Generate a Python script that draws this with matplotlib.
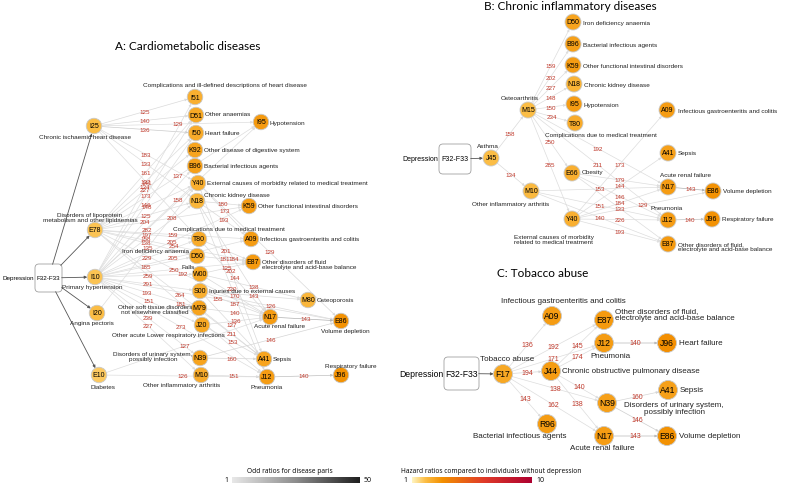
import matplotlib
matplotlib.use('Agg')
import matplotlib.pyplot as plt
from matplotlib.colors import LinearSegmentedColormap, Normalize
from matplotlib.patches import FancyBboxPatch
from matplotlib.cm import ScalarMappable

# ---- disease names ----
names = {
    'I25': 'Chronic ischaemic heart disease',
    'E78': 'Disorders of lipoprotein\nmetabolism and other lipidaemias',
    'I10': 'Primary hypertension',
    'I20': 'Angina pectoris',
    'E10': 'Diabetes',
    'I51': 'Complications and ill-defined descriptions of heart disease',
    'D51': 'Other anaemias',
    'I50': 'Heart failure',
    'K92': 'Other disease of digestive system',
    'B96': 'Bacterial infectious agents',
    'Y40': 'External causes of morbidity related to medical treatment',
    'N18': 'Chronic kidney disease',
    'T80': 'Complications due to medical treatment',
    'D50': 'Iron deficiency anaemia',
    'W00': 'Falls',
    'S00': 'Injuries due to external causes',
    'M79': 'Other soft tissue disorders\nnot elsewhere classified',
    'J20': 'Other acute Lower respiratory infections',
    'N39': 'Disorders of urinary system,\npossibly infection',
    'M10': 'Other inflammatory arthritis',
    'I95': 'Hypotension',
    'K59': 'Other functional intestinal disorders',
    'A09': 'Infectious gastroenteritis and colitis',
    'E87': 'Other disorders of fluid\nelectrolyte and acid-base balance',
    'M80': 'Osteoporosis',
    'N17': 'Acute renal failure',
    'E86': 'Volume depletion',
    'A41': 'Sepsis',
    'J12': 'Pneumonia',
    'J96': 'Respiratory failure',
    'J45': 'Asthma',
    'M15': 'Osteoarthritis',
    'E66': 'Obesity',
    'F17': 'Tobacco abuse',
    'J44': 'Chronic obstructive pulmonary disease',
    'R96': 'Bacterial infectious agents',
}
names_b = {'Y40': 'External causes of morbidity\nrelated to medical treatment',
           'E87': 'Other disorders of fluid,\nelectrolyte and acid-base balance'}
names_c = {'E87': 'Other disorders of fluid,\nelectrolyte and acid-base balance',
           'J96': 'Heart failure'}

# ---- hazard ratios per node (node colour) ----
hazard_a = {'I25': 2.0, 'E78': 1.9, 'I10': 1.9, 'I20': 2.0, 'E10': 1.8,
            'I51': 2.4, 'D51': 2.6, 'I50': 2.5, 'K92': 2.7, 'B96': 2.8, 'Y40': 2.4,
            'N18': 2.2, 'T80': 2.5, 'D50': 2.6, 'W00': 2.6, 'S00': 2.4, 'M79': 2.7,
            'J20': 2.6, 'N39': 2.7, 'M10': 2.5, 'I95': 3.0, 'K59': 2.9, 'A09': 2.9,
            'E87': 3.0, 'M80': 2.2, 'N17': 2.9, 'E86': 3.2, 'A41': 2.7, 'J12': 2.9,
            'J96': 3.2}
hazard_b = {'J45': 2.0, 'M15': 2.0, 'M10': 2.1, 'D50': 2.7, 'B96': 2.8, 'K59': 2.9,
            'N18': 2.3, 'I95': 2.9, 'T80': 2.5, 'E66': 2.4, 'Y40': 2.4, 'A09': 2.9,
            'A41': 2.8, 'N17': 2.9, 'E86': 3.2, 'J12': 2.9, 'J96': 3.2, 'E87': 3.0}
hazard_c = {'F17': 2.6, 'A09': 2.9, 'E87': 3.0, 'J12': 2.9, 'J96': 3.3, 'J44': 2.9,
            'A41': 2.8, 'N39': 2.8, 'R96': 2.9, 'N17': 2.9, 'E86': 3.2}

# ---- edges: (from, to, label, odds ratio) ----
dep_a = ['I25', 'E78', 'I10', 'I20', 'E10']
edges_a = [
    ('I25', 'I51', 125, 5), ('I25', 'D51', 140, 5), ('I25', 'I50', 136, 9),
    ('I25', 'I95', 129, 4), ('I25', 'Y40', 183, 4), ('I25', 'N18', 133, 4),
    ('I25', 'T80', 141, 4),
    ('E78', 'D51', 161, 4), ('E78', 'I50', 132, 4), ('E78', 'K92', 227, 4),
    ('E78', 'Y40', 148, 4), ('E78', 'N18', 125, 4), ('E78', 'T80', 197, 4),
    ('E78', 'D50', 138, 4), ('E78', 'I95', 137, 4), ('E78', 'K59', 208, 4),
    ('E78', 'A09', 159, 4), ('E78', 'E87', 254, 4), ('E78', 'N17', 192, 4),
    ('E78', 'A41', 264, 4), ('E78', 'J12', 181, 4),
    ('I10', 'I51', 134, 4), ('I10', 'D51', 173, 4), ('I10', 'I50', 146, 4),
    ('I10', 'B96', 204, 4), ('I10', 'Y40', 282, 4), ('I10', 'N18', 158, 4),
    ('I10', 'T80', 229, 4), ('I10', 'D50', 185, 4), ('I10', 'W00', 259, 4),
    ('I10', 'S00', 291, 4), ('I10', 'M79', 193, 4), ('I10', 'J20', 151, 4),
    ('I10', 'N39', 239, 4), ('I10', 'M10', 227, 4), ('I10', 'I95', 158, 4),
    ('I10', 'K59', 205, 4), ('I10', 'A09', 205, 4), ('I10', 'E87', 250, 4),
    ('I10', 'E86', 155, 4), ('I10', 'J12', 273, 4),
    ('I20', 'Y40', 135, 4),
    ('E10', 'N17', 127, 4), ('E10', 'J12', 126, 4),
    ('N18', 'K59', 180, 5), ('Y40', 'A09', 173, 5), ('N18', 'A09', 193, 5),
    ('T80', 'E87', 201, 5), ('N18', 'N17', 184, 5), ('Y40', 'E86', 129, 5),
    ('T80', 'N17', 144, 5), ('N18', 'J12', 220, 5), ('Y40', 'A41', 202, 5),
    ('D50', 'E87', 181, 5), ('W00', 'E87', 125, 5), ('W00', 'N17', 170, 5),
    ('S00', 'N17', 187, 5), ('M79', 'N17', 140, 5), ('S00', 'A41', 127, 5),
    ('J20', 'N17', 136, 5), ('M79', 'A41', 211, 5), ('J20', 'A41', 153, 5),
    ('N39', 'A41', 160, 6), ('M10', 'J12', 151, 5), ('N39', 'E86', 146, 6),
    ('W00', 'M80', 138, 5), ('S00', 'M80', 143, 5), ('S00', 'E86', 126, 5),
    ('N17', 'E86', 143, 16), ('J12', 'J96', 140, 12),
]
dep_b = ['J45']
edges_b = [
    ('J45', 'M15', 158, 5), ('J45', 'M10', 134, 5),
    ('M15', 'D50', 159, 4), ('M15', 'B96', 202, 4), ('M15', 'K59', 227, 4),
    ('M15', 'N18', 148, 4), ('M15', 'I95', 150, 4), ('M15', 'T80', 234, 4),
    ('M15', 'E66', 250, 4), ('M15', 'Y40', 285, 4), ('M15', 'N17', 192, 4),
    ('M15', 'J12', 211, 4), ('Y40', 'A09', 173, 4), ('E66', 'N17', 179, 4),
    ('E66', 'J12', 146, 4), ('Y40', 'A41', 144, 4), ('M10', 'N17', 153, 4),
    ('M10', 'J12', 151, 4), ('M10', 'E87', 140, 4), ('Y40', 'N17', 184, 4),
    ('Y40', 'E86', 129, 4), ('E66', 'E87', 133, 4), ('Y40', 'J12', 226, 4),
    ('Y40', 'E87', 193, 4), ('N17', 'E86', 143, 16), ('J12', 'J96', 140, 12),
]
dep_c = ['F17']
edges_c = [
    ('F17', 'A09', 136, 4), ('F17', 'E87', 192, 4), ('F17', 'J12', 171, 4),
    ('F17', 'J44', 194, 6), ('F17', 'N39', 138, 4), ('F17', 'R96', 143, 4),
    ('F17', 'N17', 162, 4), ('J44', 'E87', 145, 4), ('J44', 'J12', 174, 4),
    ('J44', 'N39', 140, 4), ('J44', 'N17', 138, 4), ('J12', 'J96', 140, 14),
    ('N39', 'A41', 160, 6), ('N39', 'E86', 146, 8), ('N17', 'E86', 143, 14),
]

# ---- layout (pixel positions) and label placement (dx, dy, ha) ----
R, C = 'left', 'center'
layout_a = {
    'I25': (94, 127, -9, 11, C), 'E78': (95, 231, -5, -13, C), 'I10': (95, 278, -3, 10, C),
    'I20': (97, 314, -5, 10, C), 'E10': (99, 376, 4, 12, C),
    'I51': (195, 98, 30, -13, C), 'D51': (196, 116, 9, -1, R), 'I50': (196, 134, 9, 0, R),
    'K92': (195, 151, 9, 0, R), 'B96': (195, 167, 9, 0, R), 'Y40': (198, 184, 9, 0, R),
    'N18': (197, 202, 7, -6, R), 'T80': (199, 240, 30, -10, C), 'D50': (197, 257, -41, -5, C),
    'W00': (200, 275, -12, -7, C), 'S00': (200, 292, 9, 0, R), 'M79': (199, 309, -44, 1, C),
    'J20': (202, 326, -34, 10, C), 'N39': (200, 359, -47, -2, C), 'M10': (201, 376, -19, 10, C),
    'I95': (261, 123, 9, 0, R), 'K59': (249, 207, 9, 0, R), 'A09': (251, 240, 9, 0, R),
    'E87': (253, 263, 9, 2, R), 'M80': (308, 301, 9, 0, R), 'N17': (270, 318, 10, 9, C),
    'E86': (341, 322, 4, 10, C), 'A41': (264, 360, 9, 0, R), 'J12': (267, 378, 0, 10, C),
    'J96': (341, 376, 10, -9, C),
}
layout_b = {
    'J45': (491, 159, -3, -12, C), 'M15': (528, 111, -8, -13, C), 'M10': (531, 192, -20, 13, C),
    'D50': (573, 23, 10, 0, R), 'B96': (573, 45, 10, 0, R), 'K59': (573, 66, 10, 0, R),
    'N18': (574, 85, 10, 0, R), 'I95': (574, 105, 10, 0, R), 'T80': (575, 124, 26, 12, C),
    'E66': (572, 174, 10, -1, R), 'Y40': (572, 220, -18, 20, C), 'A09': (667, 111, 11, 0, R),
    'A41': (668, 154, 10, 0, R), 'N17': (668, 188, 17, -12, C), 'E86': (713, 192, 10, 0, R),
    'J12': (668, 221, -1, -12, C), 'J96': (712, 220, 10, 0, R), 'E87': (668, 245, 10, 2, R),
}
layout_c = {
    'F17': (503, 375, 4, -15, C), 'A09': (552, 317, 11, -15, C), 'E87': (604, 321, 11, -6, R),
    'J12': (604, 344, 6, 13, C), 'J96': (667, 344, 12, 0, R), 'J44': (551, 372, 11, 0, R),
    'A41': (668, 391, 12, 0, R), 'N39': (607, 404, 67, 5, C), 'R96': (547, 425, -27, 12, C),
    'N17': (604, 437, -2, 12, C), 'E86': (667, 437, 12, 0, R),
}

# ---- colour scales ----
haz_cmap = LinearSegmentedColormap.from_list(
    'haz', [(0, '#fff5c2'), (0.11, '#fbbd45'), (0.25, '#f39000'), (0.6, '#df3a28'), (1, '#ad0030')])
haz_norm = Normalize(1, 10)
or_cmap = LinearSegmentedColormap.from_list('or', ['#e8e8e8', '#8c8c8c', '#1e1e1e'])
or_norm = Normalize(1, 50)

RED = '#c0392b'
TXT = 'Liberation Sans'

fig = plt.figure(figsize=(7.87, 4.85), dpi=100)
ax = fig.add_axes([0, 0, 1, 1])
ax.set_xlim(0, 787)
ax.set_ylim(485, 0)
ax.axis('off')


def draw_panel(layout, hazard, edges, dep, box, ext, node_d, fs_code, fs_name, fs_edge, fs_dep):
    bx, by, bw, bh = box
    patch = FancyBboxPatch((bx, by), bw, bh, boxstyle='round,pad=0,rounding_size=4',
                           fc='white', ec='#a0a0a0', lw=0.6, zorder=1)
    ax.add_patch(patch)
    ax.text(bx + bw / 2, by + bh / 2, 'F32-F33', fontsize=fs_dep, family=TXT,
            ha='center', va='center', zorder=4)
    ax.text(bx - 1, by + bh / 2, 'Depression', fontsize=fs_dep, family=TXT,
            ha='right', va='center', zorder=4)
    r_pt = node_d / 2 * 72 / 100
    for n in dep:
        x, y = layout[n][:2]
        ax.annotate('', xy=(x, y), xytext=(bx + bw / 2, by + bh / 2),
                    arrowprops=dict(arrowstyle='-|>', color='#555555', lw=0.6,
                                    mutation_scale=4, patchA=patch, shrinkA=0,
                                    shrinkB=r_pt), zorder=2)
    for a, b, lab, odds in edges:
        x0, y0 = layout[a][:2]
        x1, y1 = layout[b][:2]
        ax.annotate('', xy=(x1, y1), xytext=(x0, y0),
                    arrowprops=dict(arrowstyle='-|>', color=or_cmap(or_norm(odds)), lw=0.5,
                                    mutation_scale=3.5, shrinkA=r_pt, shrinkB=r_pt), zorder=2)
        ax.text((x0 + x1) / 2, (y0 + y1) / 2, str(lab), color=RED, fontsize=fs_edge,
                family=TXT, ha='center', va='center', zorder=3)
    codes = list(layout)
    xs = [layout[n][0] for n in codes]
    ys = [layout[n][1] for n in codes]
    cols = [haz_cmap(haz_norm(hazard[n])) for n in codes]
    ax.scatter(xs, ys, s=(node_d * 72 / 100) ** 2, c=cols, edgecolors='#c9c9c9',
               linewidths=0.6, zorder=5)
    for n in codes:
        x, y, dx, dy, ha = layout[n]
        ax.text(x, y, n, fontsize=fs_code, family=TXT, ha='center', va='center', zorder=6)
        ax.text(x + dx, y + dy, ext.get(n, names[n]), fontsize=fs_name, family=TXT,
                ha=ha, va='center', linespacing=0.95, color='#222222', zorder=6)


draw_panel(layout_a, hazard_a, edges_a, dep_a, (35, 265, 27, 28), {}, 15.5, 5.0, 4.6, 4.5, 4.5)
draw_panel(layout_b, hazard_b, edges_b, dep_b, (439, 145, 32, 30), names_b, 16, 5.0, 4.6, 4.5, 5.0)
draw_panel(layout_c, hazard_c, edges_c, dep_c, (444, 358, 35, 33), names_c, 19, 6.2, 5.8, 5.0, 6.2)

# titles
ax.text(188, 47, 'A: Cardiometabolic diseases', fontsize=8.5, family='Lato', ha='center', va='center')
ax.text(570, 6, 'B: Chronic inflammatory diseases', fontsize=8.5, family='Lato', ha='center', va='center')
ax.text(543, 274, 'C: Tobacco abuse', fontsize=8.5, family='Lato', ha='center', va='center')

# colour bars
cax1 = fig.add_axes([232 / 787, 1 / 485, 128 / 787, 6 / 485])
cb1 = fig.colorbar(ScalarMappable(or_norm, or_cmap), cax=cax1, orientation='horizontal')
cb1.set_ticks([])
cb1.outline.set_visible(False)
ax.text(290, 472, 'Odd ratios for disease paris', fontsize=4.8, family='Open Sans', ha='center', va='center')
ax.text(228, 481, '1', fontsize=5, family='Open Sans', ha='right', va='center')
ax.text(364, 481, '50', fontsize=5, family='Open Sans', ha='left', va='center')

cax2 = fig.add_axes([412 / 787, 1 / 485, 120 / 787, 6 / 485])
cb2 = fig.colorbar(ScalarMappable(haz_norm, haz_cmap), cax=cax2, orientation='horizontal')
cb2.set_ticks([])
cb2.outline.set_visible(False)
ax.text(401, 472, 'Hazard ratios compared to individuals without depression', fontsize=4.8,
        family='Open Sans', ha='left', va='center')
ax.text(405, 481, '1', fontsize=5, family='Open Sans', ha='center', va='center')
ax.text(536, 481, '10', fontsize=5, family='Open Sans', ha='left', va='center')

fig.savefig('out.png', dpi=100)
